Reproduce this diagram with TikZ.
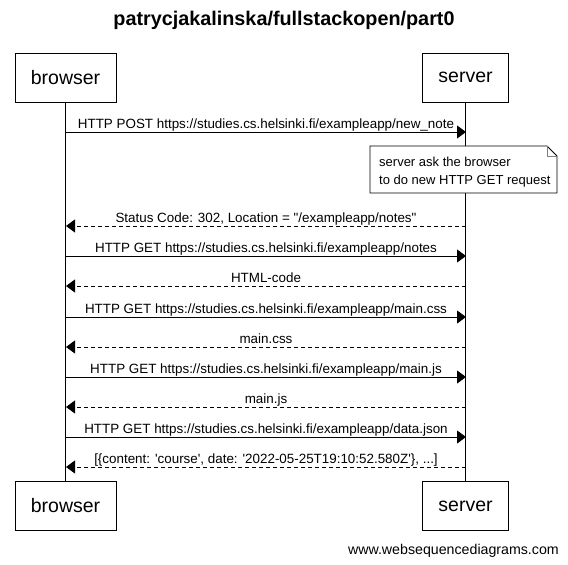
\documentclass[tikz,border=0pt]{standalone}
\usepackage{fontspec}
\setmainfont{Liberation Sans}[Ligatures=TeXOff]
\usetikzlibrary{arrows.meta}
\begin{document}
\begin{tikzpicture}[x=1pt,y=-1pt,
  actor/.style={draw,line width=0.8pt,minimum width=86pt,minimum height=49pt,inner sep=0pt,font=\fontsize{19.5}{22}\selectfont},
  lifeline/.style={line width=0.8pt},
  msg/.style={line width=0.8pt,-{Triangle[length=9pt,width=13pt]}},
  reply/.style={msg,dash pattern=on 4pt off 3pt},
  lbl/.style={font=\fontsize{13.4}{15}\selectfont,inner sep=0pt,anchor=base}]
\useasboundingbox (0,0) rectangle (568,565);
\fill[white] (0,0) rectangle (568,565);
\node[font=\bfseries\fontsize{19.8}{22}\selectfont] (title) at (284,20) {patrycjakalinska/fullstackopen/part0};
\node[actor,minimum width=101pt] (bt) at (65.5,77.5) {browser};
\node[actor] (st) at (465.5,77.5) {server};
\node[actor,minimum width=101pt] (bb) at (65.5,506) {browser};
\node[actor] (sb) at (465.5,506) {server};
\draw[lifeline] (bt.south) -- (bb.north);
\draw[lifeline] (st.south) -- (sb.north);
% message rows
\foreach \n/\y in {1/132,2/226,3/256,4/286,5/317,6/347,7/377,8/407,9/437,10/467}{
  \coordinate (b\n) at (66,\y);
  \coordinate (s\n) at (466,\y);
}
\draw[msg] (b1) -- (s1);
\draw[reply] (s2) -- (b2);
\draw[msg] (b3) -- (s3);
\draw[reply] (s4) -- (b4);
\draw[msg] (b5) -- (s5);
\draw[reply] (s6) -- (b6);
\draw[msg] (b7) -- (s7);
\draw[reply] (s8) -- (b8);
\draw[msg] (b9) -- (s9);
\draw[reply] (s10) -- (b10);
\node[lbl] (l1) at (266,128) {HTTP POST https://studies.cs.helsinki.fi/exampleapp/new\_note};
\node[lbl] (l2) at (266,222) {Status Code: 302, Location = "/exampleapp/notes"};
\node[lbl] (l3) at (266,252) {HTTP GET https://studies.cs.helsinki.fi/exampleapp/notes};
\node[lbl] (l4) at (266,282) {HTML-code};
\node[lbl] (l5) at (266,313) {HTTP GET https://studies.cs.helsinki.fi/exampleapp/main.css};
\node[lbl] (l6) at (266,343) {main.css};
\node[lbl] (l7) at (266,373) {HTTP GET https://studies.cs.helsinki.fi/exampleapp/main.js};
\node[lbl] (l8) at (266,403) {main.js};
\node[lbl] (l9) at (266,433) {HTTP GET https://studies.cs.helsinki.fi/exampleapp/data.json};
\node[lbl] (l10) at (266,463) {[\{content: 'course', date: '2022-05-25T19:10:52.580Z'\}, ...]};
% note
\draw[line width=0.8pt,fill=white] (370,146) -- (547,146) -- (557,156) -- (557,193) -- (370,193) -- cycle;
\draw[line width=0.6pt,gray] (547,146) -- (547,156) -- (557,156);
\node[lbl,anchor=base west,font=\fontsize{13}{15}\selectfont] (n1) at (379,166) {server ask the browser};
\node[lbl,anchor=base west,font=\fontsize{13}{15}\selectfont] (n2) at (379,184) {to do new HTTP GET request};
\node[lbl,anchor=base east,font=\fontsize{14.2}{16}\selectfont] (foot) at (559,554) {www.websequencediagrams.com};
\end{tikzpicture}
\end{document}
